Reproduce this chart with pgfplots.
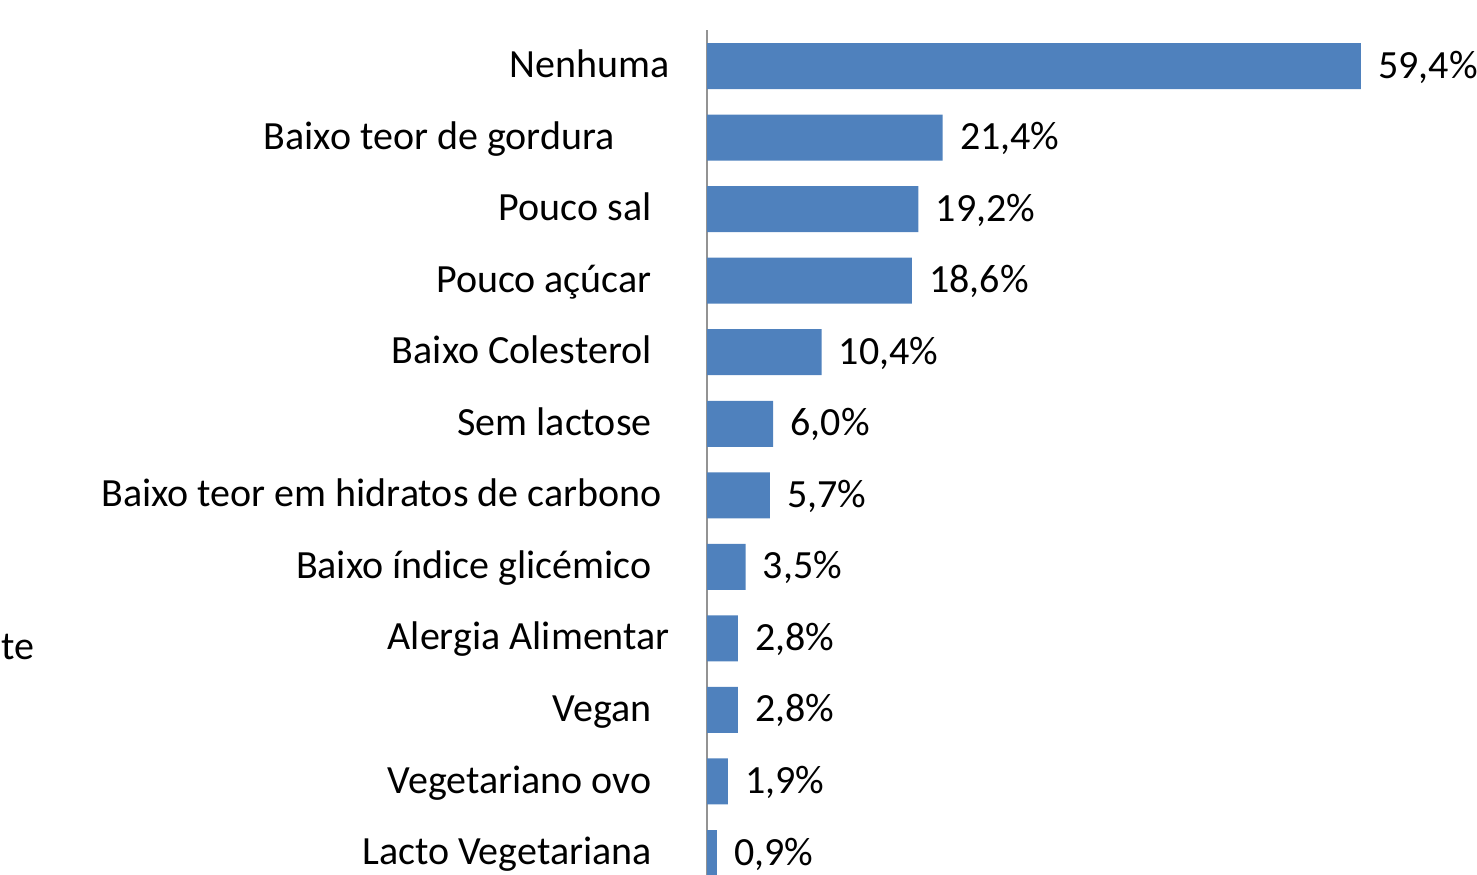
\documentclass[border=0pt]{standalone}
\usepackage{fontspec}
\setmainfont{Carlito}
\usepackage{pgfplots}
\pgfplotsset{compat=1.18}
\definecolor{barblue}{HTML}{4F81BD}
\begin{document}
\begin{tikzpicture}
\useasboundingbox (0,0) rectangle (738.5pt,437pt);
\clip (0,0) rectangle (738.5pt,437pt);
\node[anchor=base west, inner sep=0pt, font=\fontsize{20}{24}\selectfont] at (0.5pt,107.5pt) {te};
\begin{axis}[
  at={(353.5pt,-7.4pt)}, anchor=south west,
  scale only axis, width=330.3pt, height=429.27pt,
  xmin=0, xmax=60, ymin=-0.5, ymax=11.5,
  xbar, bar width=23pt,
  hide x axis,
  axis y line=left,
  y axis line style={draw=gray!85, line width=1pt, -},
  ytick={0,...,11},
  major tick length=0pt,
  yticklabels={
    Lacto Vegetariana,
    Vegetariano ovo,
    Vegan,
    Alergia Alimentar\hspace*{-9pt},
    Baixo índice glicémico,
    Baixo teor em hidratos de carbono\hspace*{-5pt},
    Sem lactose,
    Baixo Colesterol,
    Pouco açúcar,
    Pouco sal,
    Baixo teor de gordura\hspace*{18.5pt},
    Nenhuma\hspace*{-9pt}},
  yticklabel style={anchor=base east, inner sep=0pt, xshift=-27.5pt, yshift=-5.8pt, font=\fontsize{20}{24}\selectfont},
  clip=false,
  point meta=explicit symbolic,
  nodes near coords,
  every node near coord/.append style={anchor=base west, inner sep=0pt, xshift=8.5pt, yshift=-6pt, font=\fontsize{20}{24}\selectfont, text=black},
]
\addplot[fill=barblue, draw=none] coordinates {
  (0.9,0) [0,9\%]
  (1.9,1) [1,9\%]
  (2.8,2) [2,8\%]
  (2.8,3) [2,8\%]
  (3.5,4) [3,5\%]
  (5.7,5) [5,7\%]
  (6.0,6) [6,0\%]
  (10.4,7) [10,4\%]
  (18.6,8) [18,6\%]
  (19.2,9) [19,2\%]
  (21.4,10) [21,4\%]
  (59.4,11) [59,4\%]
};
\end{axis}
\end{tikzpicture}
\end{document}
